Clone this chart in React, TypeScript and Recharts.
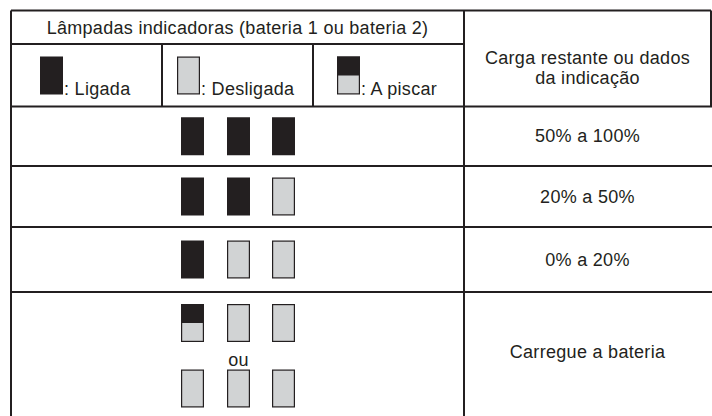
import { ScatterChart, Scatter, XAxis, YAxis, ReferenceLine, ReferenceDot } from "recharts";

// indicator table data
const HEADER_LAMPS = "Lâmpadas indicadoras (bateria 1 ou bateria 2)";
const HEADER_CHARGE = ["Carga restante ou dados", "da indicação"];
const LEGEND_STATES = ["on", "off", "blink"];
const LEGEND_LABELS = [": Ligada", ": Desligada", ": A piscar"];
const ROW_LABELS = ["50% a 100%", "20% a 50%", "0% a 20%", "Carregue a bateria"];
const ROW_LAMPS = [
  ["on", "on", "on"],
  ["on", "on", "off"],
  ["on", "off", "off"],
  ["blink", "off", "off"],
];
const ALT_LAMPS = ["off", "off", "off"]; // last row, after "ou"
const OR_WORD = "ou";

// layout (page pixels)
const W = 712;
const H = 416;
const COL_X = [11, 162, 313, 464, 711];
const ROW_Y = [10.5, 44, 106.5, 166, 227, 292, 416];
const SLOT_X = [192.5, 238.5, 283.5];
const LEGEND_X = [51.5, 188.5, 348.5];
const LAMP_W = 23;
const LAMP_H = 38;
const INK = "#231f20";
const OFF = "#d1d3d4";
const FONT = "'Liberation Sans', Arial, sans-serif";

document.body.style.margin = "0";

type Lamp = { x: number; y: number; state: string };

const mid = (a: number, b: number) => (a + b) / 2;

const lamps: Lamp[] = [];
LEGEND_STATES.forEach((s, i) => lamps.push({ x: LEGEND_X[i], y: 75.5, state: s }));
ROW_LAMPS.forEach((row, r) => {
  const lastRow = r === ROW_LAMPS.length - 1;
  const cy = lastRow ? ROW_Y[5] + 31 : mid(ROW_Y[r + 2], ROW_Y[r + 3]);
  row.forEach((s, i) => lamps.push({ x: SLOT_X[i], y: cy, state: s }));
});
ALT_LAMPS.forEach((s, i) => lamps.push({ x: SLOT_X[i], y: ROW_Y[5] + 96.5, state: s }));

function LampShape(props: any) {
  const { cx, cy, payload } = props;
  const x = cx - LAMP_W / 2;
  const y = cy - LAMP_H / 2;
  if (payload.state === "on") {
    return <rect x={x} y={y} width={LAMP_W} height={LAMP_H} fill={INK} />;
  }
  if (payload.state === "blink") {
    return (
      <g>
        <rect x={x + 0.6} y={y + 0.6} width={LAMP_W - 1.2} height={LAMP_H - 1.2} fill={OFF} stroke={INK} strokeWidth={1.2} />
        <rect x={x} y={y} width={LAMP_W} height={LAMP_H / 2} fill={INK} />
      </g>
    );
  }
  return (
    <rect x={x + 0.6} y={y + 0.6} width={LAMP_W - 1.2} height={LAMP_H - 1.2}
      fill={OFF} stroke={INK} strokeWidth={1.2} />
  );
}

function txt(value: string, anchor: "start" | "middle" = "middle") {
  return (p: any) => (
    <text x={p.cx} y={p.cy} textAnchor={anchor} dominantBaseline={anchor === "start" ? "alphabetic" : "central"}
      fill={INK} fontSize={18} letterSpacing={0.3} fontFamily={FONT}>
      {value}
    </text>
  );
}

const segments: [number, number, number, number][] = [
  // horizontals
  [COL_X[0], ROW_Y[0], COL_X[4], ROW_Y[0]],
  [COL_X[0], ROW_Y[1], COL_X[3], ROW_Y[1]],
  [COL_X[0], ROW_Y[2], W, ROW_Y[2]],
  [COL_X[0], ROW_Y[3], W, ROW_Y[3]],
  [COL_X[0], ROW_Y[4], W, ROW_Y[4]],
  [COL_X[0], ROW_Y[5], W, ROW_Y[5]],
  // verticals
  [COL_X[0], ROW_Y[0], COL_X[0], H],
  [COL_X[1], ROW_Y[1], COL_X[1], ROW_Y[2]],
  [COL_X[2], ROW_Y[1], COL_X[2], ROW_Y[2]],
  [COL_X[3], ROW_Y[0], COL_X[3], H],
  [COL_X[4], ROW_Y[0], COL_X[4], ROW_Y[2]],
];

export default function App() {
  const rightMid = mid(COL_X[3], COL_X[4]);
  return (
    <ScatterChart width={W} height={H} margin={{ top: 0, right: 0, bottom: 0, left: 0 }}>
      <XAxis type="number" dataKey="x" domain={[0, W]} hide allowDataOverflow />
      <YAxis type="number" dataKey="y" domain={[0, H]} reversed hide allowDataOverflow />

      {segments.map(([x1, y1, x2, y2], i) => (
        <ReferenceLine key={i} segment={[{ x: x1, y: y1 }, { x: x2, y: y2 }]}
          stroke={INK} strokeWidth={2} ifOverflow="visible" />
      ))}

      <Scatter data={lamps} shape={LampShape} isAnimationActive={false} />

      <ReferenceDot x={mid(COL_X[0], COL_X[3])} y={28} r={0} shape={txt(HEADER_LAMPS)} ifOverflow="visible" />
      <ReferenceDot x={rightMid} y={57.5} r={0} shape={txt(HEADER_CHARGE[0])} ifOverflow="visible" />
      <ReferenceDot x={rightMid} y={78} r={0} shape={txt(HEADER_CHARGE[1])} ifOverflow="visible" />
      {LEGEND_LABELS.map((l, i) => (
        <ReferenceDot key={l} x={LEGEND_X[i] + LAMP_W / 2 + 1} y={94.5} r={0} shape={txt(l, "start")} ifOverflow="visible" />
      ))}
      {ROW_LABELS.map((l, r) => (
        <ReferenceDot key={l} x={rightMid} y={r === 3 ? 352 : mid(ROW_Y[r + 2], ROW_Y[r + 3])} r={0}
          shape={txt(l)} ifOverflow="visible" />
      ))}
      <ReferenceDot x={SLOT_X[1]} y={360} r={0} shape={txt(OR_WORD)} ifOverflow="visible" />
    </ScatterChart>
  );
}
